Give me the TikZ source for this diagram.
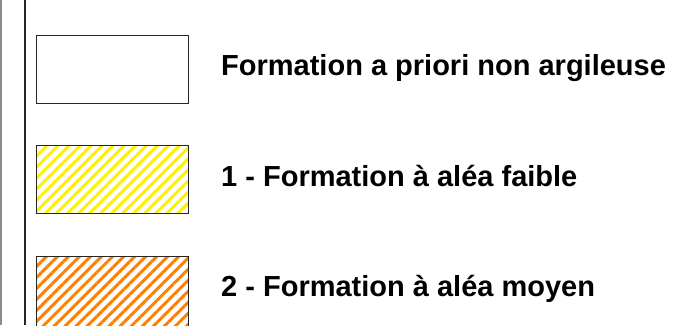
\documentclass[tikz,border=0pt]{standalone}
\usepackage{fontspec}
\setmainfont{Liberation Sans}
\usetikzlibrary{positioning,patterns.meta}

\definecolor{alearouge}{RGB}{255,128,0}
\definecolor{aleajaune}{RGB}{255,240,0}

\begin{document}
\begin{tikzpicture}[
		x=1pt, y=1pt,
		legbox/.style={rectangle, draw=black!85, line width=1pt, minimum width=152pt, minimum height=68pt, inner sep=0pt},
		legtext/.style={font=\fontsize{29}{34}\selectfont\bfseries, inner sep=0pt, anchor=base west}
		]
		\useasboundingbox (0,0) rectangle (675,-325);
		% frame lines on the left
		\draw[black!45, line width=2pt] (1,0) -- (1,-325);
		\draw[black!85, line width=1.2pt] (25,0) -- (25,-325);
		
		% legend boxes
		\node[legbox] (b0) at (112,-69) {};
		\node[legbox, preaction={fill=white}, pattern={Lines[angle=45, distance=7.8pt, line width=3pt]}, pattern color=aleajaune] (b1) at (112,-179) {};
		\node[legbox, minimum height=76pt, preaction={fill=white}, pattern={Lines[angle=45, distance=7.8pt, line width=3pt]}, pattern color=alearouge] (b2) at (112,-294) {};
		
		% legend texts
		\node[legtext] (t0) at (221,-75) {Formation a priori non argileuse};
		\node[legtext] (t1) at (221,-186) {1 - Formation à aléa faible};
		\node[legtext] (t2) at (221,-296.5) {2 - Formation à aléa moyen};
	\end{tikzpicture}
\end{document}
